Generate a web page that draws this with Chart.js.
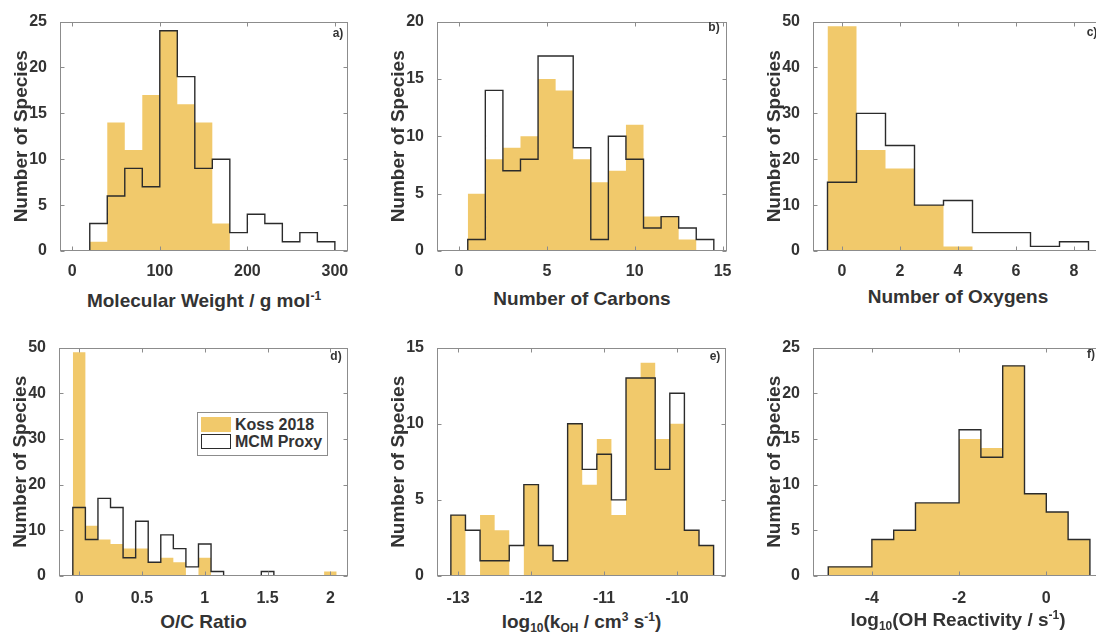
<!DOCTYPE html>
<html>
<head>
<meta charset="utf-8">
<title>Species histograms</title>
<script src="https://cdn.jsdelivr.net/npm/chart.js@4.4.1/dist/chart.umd.min.js"></script>
<style>
    html, body { margin: 0; padding: 0; background: #fff; width: 1096px; height: 643px; overflow: hidden; }
    body { position: relative; font-family: "Liberation Sans", Arial, sans-serif; font-weight: bold; color: #333; }
    .panel { position: absolute; }
    .xtitle { position: absolute; font-size: 19px; line-height: 19px; white-space: nowrap; transform: translate(-50%, -50%); }
    .xtitle sup { font-size: 12px; vertical-align: 0.55em; line-height: 0; }
    .xtitle sub { font-size: 12px; vertical-align: -0.4em; line-height: 0; }
    .tag { position: absolute; font-size: 12px; transform: translate(-50%, -50%); }
    .legend { position: absolute; left: 197px; top: 412px; width: 131px; height: 44px; box-sizing: border-box;
              border: 1px solid #8c8c8c; background: #fff; font-size: 16px; line-height: 17px; }
    .legend .row { position: absolute; left: 3px; height: 17px; white-space: nowrap; }
    .legend .sw { position: absolute; left: 0; top: 1px; width: 30px; height: 15px; box-sizing: border-box; }
    .legend .txt { position: absolute; left: 34px; top: 0; }
</style>
</head>
<body>

<div class="legend">
    <div class="row" style="top:3px"><div class="sw" style="background:#f1c96b"></div><span class="txt">Koss 2018</span></div>
    <div class="row" style="top:20px"><div class="sw" style="border:1.5px solid #2b2b2b;background:#fff"></div><span class="txt">MCM Proxy</span></div>
</div>

<script>
// ---- data ----

// a) molecular weight, bins of 20 g/mol
const mwEdges = [20, 40, 60, 80, 100, 120, 140, 160, 180, 200, 220, 240, 260, 280, 300];
const mwKoss = [1, 14, 11, 17, 24, 16, 14, 3, 0, 0, 0, 0, 0, 0];
const mwMcm = [3, 6, 9, 7, 24, 19, 9, 10, 2, 4, 3, 1, 2, 1];
const mwTicks = [0, 100, 200, 300];

// b) number of carbons
const carbonEdges = [0.5, 1.5, 2.5, 3.5, 4.5, 5.5, 6.5, 7.5, 8.5, 9.5, 10.5, 11.5, 12.5, 13.5, 14.5];
const carbonKoss = [5, 8, 9, 10, 15, 14, 8, 6, 7, 11, 3, 3, 1, 0];
const carbonMcm = [1, 14, 7, 8, 17, 17, 9, 1, 10, 8, 2, 3, 2, 1];
const carbonTicks = [0, 5, 10, 15];

// c) number of oxygens
const oxygenEdges = [-0.5, 0.5, 1.5, 2.5, 3.5, 4.5, 5.5, 6.5, 7.5, 8.5];
const oxygenKoss = [49, 22, 18, 10, 1, 0, 0, 0, 0];
const oxygenMcm = [15, 30, 23, 10, 11, 4, 4, 1, 2];
const oxygenTicks = [0, 2, 4, 6, 8];

// d) O/C ratio, bins of 0.1
const ocEdges = [-0.05, 0.05, 0.15, 0.25, 0.35, 0.45, 0.55, 0.65, 0.75, 0.85, 0.95,
                 1.05, 1.15, 1.25, 1.35, 1.45, 1.55, 1.65, 1.75, 1.85, 1.95, 2.05];
const ocKoss = [49, 11, 8, 7, 6, 6, 3, 4, 3, 0, 4, 0, 0, 0, 0, 0, 0, 0, 0, 0, 1];
const ocMcm = [15, 8, 17, 15, 4, 12, 3, 9, 6, 2, 7, 1, 0, 0, 0, 1, 0, 0, 0, 0, 0];
const ocTicks = [0, 0.5, 1, 1.5, 2];

// e) log10 kOH
const kohEdges = [-13.1, -12.9, -12.7, -12.5, -12.3, -12.1, -11.9, -11.7, -11.5, -11.3,
                  -11.1, -10.9, -10.7, -10.5, -10.3, -10.1, -9.9, -9.7, -9.5];
const kohKoss = [4, 0, 4, 3, 0, 6, 2, 1, 10, 6, 9, 4, 13, 14, 9, 10, 3, 2];
const kohMcm = [4, 3, 1, 1, 2, 6, 2, 1, 10, 7, 8, 5, 13, 13, 7, 12, 3, 2];
const kohTicks = [-13, -12, -11, -10];

// f) log10 OH reactivity
const reactEdges = [-5, -4.5, -4, -3.5, -3, -2.5, -2, -1.5, -1, -0.5, 0, 0.5, 1];
const reactKoss = [1, 1, 4, 5, 8, 8, 15, 14, 23, 9, 7, 4];
const reactMcm = [1, 1, 4, 5, 8, 8, 16, 13, 23, 9, 7, 4];
const reactTicks = [-4, -2, 0];

const countTicks5 = [0, 5, 10, 15, 20, 25];
const countTicks10 = [0, 10, 20, 30, 40, 50];

// ---- styling ----
const KOSS_FILL = '#f1c96b';
const MCM_LINE = '#2b2b2b';
const FRAME = '#8c8c8c';
const TEXT = '#333';
const FONT = '"Liberation Sans", Arial, sans-serif';
const Y_AXIS_W = 60;
const PAD_T = 12;
const PAD_R = 10;
const X_AXIS_H = 32;

const panels = [
    { tag: 'a)', left: 60, top: 19, width: 288, height: 232, edges: mwEdges, koss: mwKoss, mcm: mwMcm,
      xMin: -14, xMax: 315, xTicks: mwTicks, yMax: 25, yTicks: countTicks5, xPad: 3,
      title: 'Molecular Weight / g mol<sup>-1</sup>', titleY: 300, tagPos: [338, 33] },
    { tag: 'b)', left: 437, top: 19, width: 290, height: 232, edges: carbonEdges, koss: carbonKoss, mcm: carbonMcm,
      xMin: -1.25, xMax: 15.25, xTicks: carbonTicks, yMax: 20, yTicks: countTicks5.slice(0, 5), xPad: 3,
      title: 'Number of Carbons', titleY: 298, tagPos: [714, 27] },
    { tag: 'c)', left: 813, top: 19, width: 290, height: 232, edges: oxygenEdges, koss: oxygenKoss, mcm: oxygenMcm,
      xMin: -1, xMax: 9, xTicks: oxygenTicks, yMax: 50, yTicks: countTicks10, xPad: 3,
      title: 'Number of Oxygens', titleY: 296, tagPos: [1092, 32] },
    { tag: 'd)', left: 59, top: 345, width: 289, height: 231, edges: ocEdges, koss: ocKoss, mcm: ocMcm,
      xMin: -0.16, xMax: 2.14, xTicks: ocTicks, yMax: 50, yTicks: countTicks10, xPad: 5,
      title: 'O/C Ratio', titleY: 621, tagPos: [336, 356] },
    { tag: 'e)', left: 437, top: 345, width: 289, height: 231, edges: kohEdges, koss: kohKoss, mcm: kohMcm,
      xMin: -13.29, xMax: -9.33, xTicks: kohTicks, yMax: 15, yTicks: countTicks5.slice(0, 4), xPad: 5,
      title: 'log<sub>10</sub>(k<sub>OH</sub> / cm<sup>3</sup> s<sup>-1</sup>)', titleY: 621, tagPos: [715, 356] },
    { tag: 'f)', left: 813, top: 345, width: 290, height: 231, edges: reactEdges, koss: reactKoss, mcm: reactMcm,
      xMin: -5.35, xMax: 1.3, xTicks: reactTicks, yMax: 25, yTicks: countTicks5, xPad: 5,
      title: 'log<sub>10</sub>(OH Reactivity / s<sup>-1</sup>)', titleY: 619, tagPos: [1091, 354] }
];

/**
 * Outline of a histogram as points for a stepped line
 */
function stairPoints(edges, counts) {
    const pts = [{ x: edges[0], y: 0 }];
    counts.forEach((c, i) => pts.push({ x: edges[i], y: c }));
    pts.push({ x: edges[edges.length - 1], y: 0 });
    return pts;
}

// MATLAB style box with inward ticks on all four sides
const boxPlugin = {
    id: 'matlabBox',
    afterDatasetsDraw(chart) {
        const { ctx, chartArea: a, scales } = chart;
        const L = Math.round(a.left) + 0.5, R = Math.round(a.right) - 0.5;
        const T = Math.round(a.top) + 0.5, B = Math.round(a.bottom) - 0.5;
        ctx.save();
        ctx.strokeStyle = FRAME;
        ctx.lineWidth = 1;
        ctx.strokeRect(L, T, R - L, B - T);
        ctx.beginPath();
        scales.x.ticks.forEach(t => {
            const px = Math.round(scales.x.getPixelForValue(t.value)) + 0.5;
            ctx.moveTo(px, B); ctx.lineTo(px, B - 4);
            ctx.moveTo(px, T); ctx.lineTo(px, T + 4);
        });
        scales.y.ticks.forEach(t => {
            const py = Math.round(scales.y.getPixelForValue(t.value)) + 0.5;
            ctx.moveTo(L, py); ctx.lineTo(L + 4, py);
            ctx.moveTo(R, py); ctx.lineTo(R - 4, py);
        });
        ctx.stroke();
        ctx.restore();
    }
};

function makePanel(p) {
    const wrap = document.createElement('div');
    wrap.className = 'panel';
    const cw = Y_AXIS_W + p.width + PAD_R;
    const ch = PAD_T + p.height + X_AXIS_H;
    wrap.style.left = (p.left - Y_AXIS_W) + 'px';
    wrap.style.top = (p.top - PAD_T) + 'px';
    wrap.style.width = cw + 'px';
    wrap.style.height = ch + 'px';
    const canvas = document.createElement('canvas');
    canvas.width = cw;
    canvas.height = ch;
    canvas.style.width = cw + 'px';
    canvas.style.height = ch + 'px';
    wrap.appendChild(canvas);
    document.body.insertBefore(wrap, document.body.firstChild);

    new Chart(canvas, {
        type: 'line',
        data: {
            datasets: [
                {
                    label: 'MCM Proxy',
                    data: stairPoints(p.edges, p.mcm),
                    stepped: true,
                    borderColor: MCM_LINE,
                    borderWidth: 1.4,
                    pointRadius: 0,
                    fill: false,
                    order: 0
                },
                {
                    label: 'Koss 2018',
                    data: stairPoints(p.edges, p.koss),
                    stepped: true,
                    borderWidth: 0,
                    borderColor: 'rgba(0,0,0,0)',
                    backgroundColor: KOSS_FILL,
                    pointRadius: 0,
                    fill: 'origin',
                    order: 1
                }
            ]
        },
        options: {
            responsive: false,
            animation: false,
            devicePixelRatio: 1,
            layout: { padding: { top: PAD_T, right: PAD_R, left: 0, bottom: 0 } },
            plugins: { legend: { display: false }, tooltip: { enabled: false } },
            scales: {
                x: {
                    type: 'linear',
                    min: p.xMin,
                    max: p.xMax,
                    grid: { display: false },
                    border: { display: false },
                    afterBuildTicks: s => { s.ticks = p.xTicks.map(v => ({ value: v })); },
                    afterFit: s => { s.height = X_AXIS_H; },
                    ticks: {
                        padding: p.xPad,
                        maxRotation: 0,
                        autoSkip: false,
                        color: TEXT,
                        font: { family: FONT, size: 16, weight: 'bold' },
                        callback: v => String(v)
                    }
                },
                y: {
                    type: 'linear',
                    min: 0,
                    max: p.yMax,
                    grid: { display: false },
                    border: { display: false },
                    afterBuildTicks: s => { s.ticks = p.yTicks.map(v => ({ value: v })); },
                    afterFit: s => { s.width = Y_AXIS_W; },
                    ticks: {
                        padding: 5,
                        color: TEXT,
                        font: { family: FONT, size: 16, weight: 'bold' },
                        callback: v => String(v)
                    },
                    title: {
                        display: true,
                        text: 'Number of Species',
                        color: TEXT,
                        font: { family: FONT, size: 19, weight: 'bold', lineHeight: 1.2 },
                        padding: { top: 10, bottom: 0 }
                    }
                }
            }
        },
        plugins: [boxPlugin]
    });

    const title = document.createElement('div');
    title.className = 'xtitle';
    title.innerHTML = p.title;
    title.style.left = (p.left + p.width / 2) + 'px';
    title.style.top = p.titleY + 'px';
    document.body.appendChild(title);

    const tag = document.createElement('div');
    tag.className = 'tag';
    tag.textContent = p.tag;
    tag.style.left = p.tagPos[0] + 'px';
    tag.style.top = p.tagPos[1] + 'px';
    document.body.appendChild(tag);
}

panels.forEach(makePanel);

// keep the legend above the panel canvases
document.body.appendChild(document.querySelector('.legend'));
</script>
</body>
</html>
